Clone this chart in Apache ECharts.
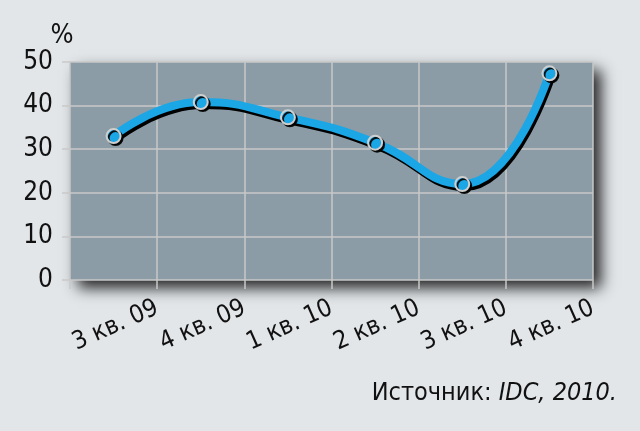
<!DOCTYPE html>
<html>
<head>
<meta charset="utf-8">
<script src="https://cdn.jsdelivr.net/npm/echarts@6/dist/echarts.min.js"></script>
<style>
html,body{margin:0;padding:0;background:#e2e6e9;}
#chart{width:640px;height:431px;}
</style>
</head>
<body>
<div id="chart"></div>
<script>
const categories = ['3 кв. 09', '4 кв. 09', '1 кв. 10', '2 кв. 10', '3 кв. 10', '4 кв. 10'];
const shareValues = [33, 40.8, 37.3, 31.5, 22, 47.4];
const yTicks = [0, 10, 20, 30, 40, 50];
const unitLabel = '%';
const sourceLabel = 'Источник: ';
const sourceItalic = 'IDC, 2010.';

const FONT = "'Liberation Sans Narrow', 'DejaVu Sans Condensed', 'Liberation Sans', sans-serif";
const GRIDC = '#c9c9c9';
const BLUE = '#1ba6e6';

const chart = echarts.init(document.getElementById('chart'), null, {renderer: 'canvas'});
chart.setOption({
  backgroundColor: '#e2e6e9',
  animation: false,
  title: {
    text: '{a|' + sourceLabel + '}{b|' + sourceItalic + '}',
    right: 18,
    top: 376,
    textStyle: {
      fontWeight: 'normal',
      rich: {
        a: {fontFamily: FONT, fontSize: 25, color: '#111', fontWeight: 'normal'},
        b: {fontFamily: FONT, fontSize: 25, color: '#111', fontWeight: 'normal', fontStyle: 'italic'}
      }
    }
  },
  grid: {
    left: 70, right: 47, top: 62, bottom: 151,
    show: true,
    backgroundColor: '#8b9ca6',
    borderWidth: 0,
    shadowColor: 'rgba(0,0,0,0.85)',
    shadowBlur: 14,
    shadowOffsetX: 8,
    shadowOffsetY: 8
  },
  xAxis: [{
    type: 'category',
    data: categories,
    boundaryGap: true,
    axisLine: {show: false},
    axisTick: {show: true, interval: 0, length: 9, lineStyle: {color: GRIDC, width: 1.5}},
    axisLabel: {show: false},
    splitLine: {show: true, interval: 0, lineStyle: {color: GRIDC, width: 1.5}}
  }, {
    type: 'category',
    position: 'bottom',
    data: [''].concat(categories),
    boundaryGap: false,
    axisLine: {show: false},
    axisTick: {show: false},
    splitLine: {show: false},
    axisLabel: {
      interval: 0, rotate: 24, margin: 27,
      fontFamily: FONT, fontSize: 25, color: '#111'
    }
  }],
  yAxis: {
    type: 'value',
    min: yTicks[0], max: yTicks[yTicks.length - 1], interval: 10,
    name: unitLabel,
    nameLocation: 'end',
    nameGap: 13,
    nameTextStyle: {fontFamily: FONT, fontSize: 27, color: '#111', padding: [0, 16, 0, 0]},
    axisLine: {show: false},
    axisTick: {show: true, length: 8, lineStyle: {color: GRIDC, width: 1.5}},
    axisLabel: {margin: 17, fontFamily: FONT, fontSize: 26, color: '#111'},
    splitLine: {show: true, lineStyle: {color: GRIDC, width: 1.5}}
  },
  series: [{
    type: 'line',
    data: shareValues,
    smooth: 0.5,
    symbol: 'circle',
    symbolSize: 14,
    lineStyle: {
      color: BLUE, width: 8,
      shadowColor: '#000', shadowBlur: 0, shadowOffsetX: 2, shadowOffsetY: 3
    },
    itemStyle: {
      color: BLUE, borderColor: '#cfcfcf', borderWidth: 2,
      shadowColor: 'rgba(0,0,0,0.9)', shadowBlur: 0, shadowOffsetX: 2, shadowOffsetY: 2
    },
    emphasis: {disabled: true}
  }]
});
</script>
</body>
</html>
